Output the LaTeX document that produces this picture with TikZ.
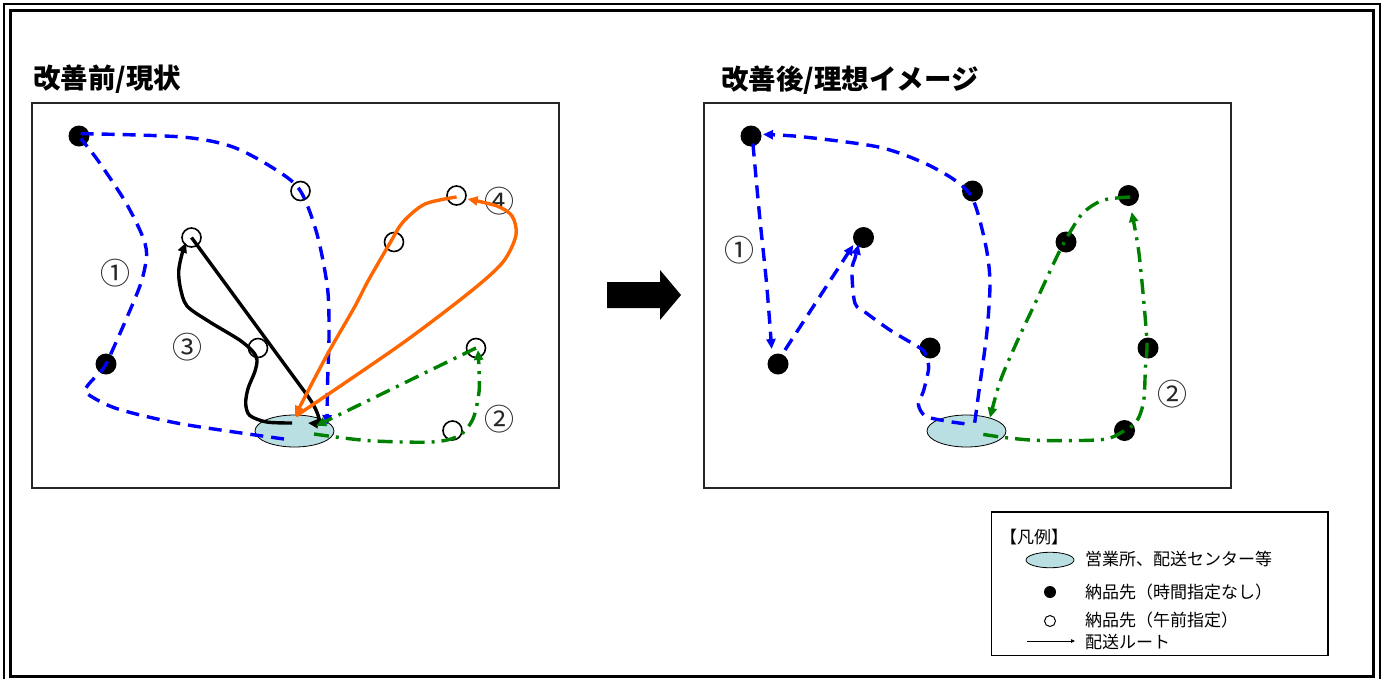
\documentclass[tikz,border=0pt]{standalone}
\usepackage{fontspec}
\newfontfamily\jp{Noto Sans CJK JP}
\usetikzlibrary{shapes.geometric,arrows.meta}

\definecolor{routeblue}{RGB}{0,0,255}
\definecolor{routegreen}{RGB}{0,128,0}
\definecolor{routeorange}{RGB}{255,102,0}
\definecolor{depotfill}{RGB}{185,223,226}

\begin{document}
\begin{tikzpicture}[x=1pt,y=-1pt,
  panel/.style={draw=black!85, line width=2pt},
  depot/.style={ellipse, draw=black, line width=0.8pt, fill=depotfill,
    minimum width=79pt, minimum height=32pt, inner sep=0pt},
  fdot/.style={circle, fill=black, minimum size=21pt, inner sep=0pt},
  odot/.style={circle, draw=black, line width=1.6pt, minimum size=19pt, inner sep=0pt},
  rline/.style={line width=3.4pt},
  blueroute/.style={rline, routeblue, dash pattern=on 13pt off 8pt},
  greenroute/.style={rline, routegreen, dash pattern=on 15pt off 7pt on 3pt off 7pt},
  orangeroute/.style={rline, routeorange},
  blackroute/.style={rline, black},
  endtip/.style={-{Triangle[length=10pt,width=9pt]}},
  num/.style={font=\jp\fontsize{30}{30}\selectfont, text=black!85, inner sep=0pt},
  heading/.style={font=\jp\bfseries\fontsize{27.5}{28}\selectfont, anchor=west, inner sep=0pt},
  legtext/.style={font=\jp\fontsize{17}{17}\selectfont, anchor=west, inner sep=0pt},
]
\useasboundingbox (0,0) rectangle (1384,678);

% double outer frame
\draw[line width=1.6pt] (4,4) rectangle (1380,684);
\draw[line width=3pt] (10,10) rectangle (1373,676);

% headings
\node[heading] (t1) at (33,79.5) {改善前/現状};
\node[heading] (t2) at (721,80.5) {改善後/理想イメージ};

% block arrow between the panels
\fill (607,282) -- (660,282) -- (660,270) -- (681,295) -- (660,320) -- (660,308) -- (607,308) -- cycle;

% ---------- before ----------
\draw[panel] (32,103) rectangle (558.5,488);
\node[depot] (dL) at (294.5,431) {};
\node[fdot] (lA) at (79,136) {};
\node[fdot] (lB) at (106,364) {};
\node[odot] (lC) at (300.5,191) {};
\node[odot] (lD) at (191.5,237.5) {};
\node[odot] (lE) at (394,242) {};
\node[odot] (lF) at (456.5,195.5) {};
\node[odot] (lG) at (258,348) {};
\node[odot] (lH) at (476,348) {};
\node[odot] (lI) at (452.5,430.5) {};

\node[num] (n1) at (115,273) {①};
\node[num] (n2) at (499.5,419) {②};
\node[num] (n3) at (187,347.5) {③};
\node[num] (n4) at (499,201.5) {④};

% route 1
\draw[blueroute] plot[smooth] coordinates {(284,439) (182,424) (118,409) (89,395) (86,388) (97,375) (lB) (128,315) (141.6,281) (146.6,254) (141.6,234) (124.7,200.7) (97.6,160) (80.7,138.6)};
\draw[blueroute, endtip] plot[smooth] coordinates {(80.7,133.6) (182,137) (233,147) (277,170.5) (lC) (317,234) (327.5,288) (329,335) (327.5,385) (327,425)};
% route 3
\draw[blackroute, endtip] plot[smooth] coordinates {(292,423) (266.6,422) (249.7,415.4) (245.7,403.7) (248,388.6) (254.8,371.8) (257,360) (253,351.7) (239.6,340) (209,321.5) (187,306) (180.4,288) (178.7,271) (182,254) (186,242.6)};
\draw[blackroute, endtip] (lD.center) -- (307,395) .. controls (318,410) and (322,424) .. (308,423);
% route 4
\draw[orangeroute, endtip] plot[smooth] coordinates {(456.6,197) (425,204) (403,222) (390,243) (368,281) (354,308) (327,355) (295,416)};
\draw[orangeroute, endtip] plot[smooth] coordinates {(296,416) (400,345) (470,292) (503,262) (516,235) (512,216) (497,206) (467.6,199)};
% route 2
\draw[greenroute, endtip] plot[smooth] coordinates {(314,434) (368,440.6) (432,442) (459,435.6) (473,418.8) (479,392) (479,368.5) (478,350)};
\draw[greenroute, endtip] (lH.center) -- (316,426);

% ---------- after ----------
\begin{scope}[xshift=672pt]
\draw[panel] (32,103) rectangle (559,488);
\node[depot] (dR) at (294.5,431) {};
\node[fdot] (rA) at (79,136) {};
\node[fdot] (rB) at (106,364) {};
\node[fdot] (rC) at (300.5,191) {};
\node[fdot] (rD) at (191.5,237.5) {};
\node[fdot] (rE) at (394,242) {};
\node[fdot] (rF) at (456.5,195.5) {};
\node[fdot] (rG) at (258,348) {};
\node[fdot] (rH) at (476,348) {};
\node[fdot] (rI) at (452.5,430.5) {};

\node[num] (m1) at (67,250) {①};
\node[num] (m2) at (500,394) {②};

% route 1
\draw[blueroute, endtip] plot[smooth] coordinates {(302.7,422.7) (307.9,384.3) (314.7,334) (318,284) (314.7,250.5) (306,213.7) (297.6,193.6) (280.6,178.6) (249.8,161.9) (205.5,146.8) (130.4,136.8) (91,134.4)};
\draw[blueroute, endtip] plot[smooth] coordinates {(80.9,143.5) (87.7,217) (94.6,284) (99.7,349)};
\draw[blueroute, endtip] (113,350) -- (181.3,245);
\draw[blueroute, endtip] plot[smooth] coordinates {(292.5,423.7) (273.7,421) (253.3,416) (246.4,404.3) (251.5,391) (256.7,367.6) (253.3,355.9) (249.8,349.2) (219.1,330.8) (194.7,313.3) (183,303.3) (179.9,270.6) (183.3,257.2) (186.5,244.5)};
% route 2
\draw[greenroute, endtip] plot[smooth] coordinates {(311.3,434.4) (335,437.8) (369.3,440.5) (430.7,439.5) (rI) (464.9,421) (471.7,401) (473.4,367.6) (475,344) (471.7,300.7) (466.6,250.5) (459.7,212)};
\draw[greenroute, endtip] plot[smooth] coordinates {(458,197) (430.7,200.3) (410.3,213.7) (393.2,240.5) (383,260.5) (365.9,297.3) (345.4,340.8) (328.3,380.9) (318,417.7)};
\end{scope}

% ---------- legend ----------
\draw[line width=1.5pt] (991.5,512) rectangle (1328,655.5);
\node[legtext] (lg0) at (1000,537) {【凡例】};
\node[depot, minimum width=48pt, minimum height=15.5pt] (lgD) at (1050,560) {};
\node[legtext] (lg1) at (1085,558.5) {営業所、配送センター等};
\node[fdot, minimum size=12pt] (lgF) at (1050,592) {};
\node[legtext] (lg2) at (1085,592) {納品先（時間指定なし）};
\node[odot, minimum size=11pt, line width=1pt] (lgO) at (1050,621) {};
\node[legtext] (lg3) at (1085,620) {納品先（午前指定）};
\coordinate (lgL0) at (1027,641);
\coordinate (lgL1) at (1075,641);
\draw[line width=0.8pt, -{Triangle[length=4pt,width=3.5pt]}] (lgL0) -- (lgL1);
\node[legtext] (lg4) at (1085,641.5) {配送ルート};
\end{tikzpicture}
\end{document}
